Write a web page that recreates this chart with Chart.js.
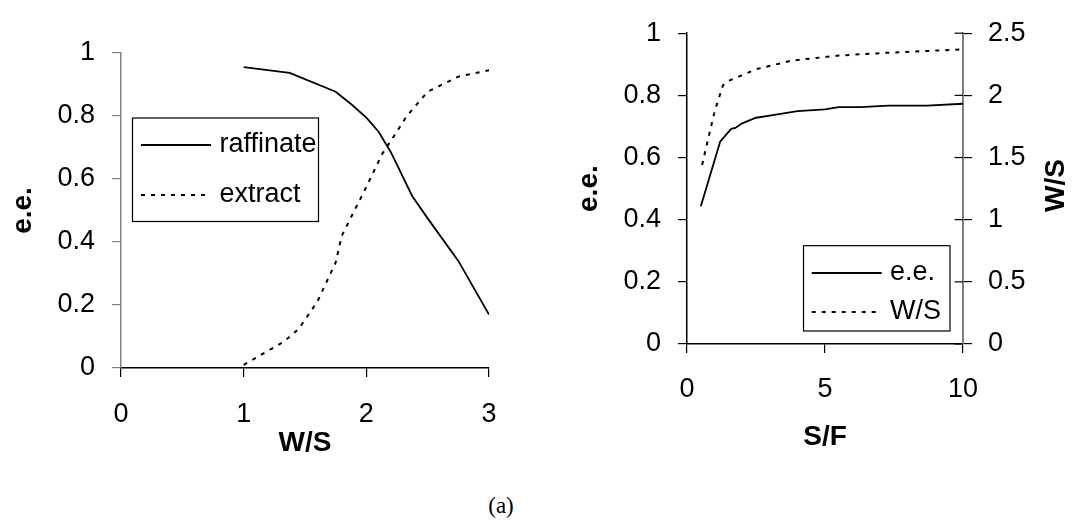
<!DOCTYPE html>
<html><head><meta charset="utf-8">
<script src="https://cdn.jsdelivr.net/npm/chart.js@4/dist/chart.umd.min.js"></script>
<style>
html,body{margin:0;padding:0;background:#fff;width:1073px;height:521px;overflow:hidden;}
.box{position:absolute;top:0;}
#w1{left:0;width:540px;height:470px;}
#w2{left:540px;width:533px;height:470px;}
#cap{position:absolute;left:451px;width:100px;top:492px;text-align:center;font:23px "Liberation Serif","Times New Roman",serif;line-height:28px;color:#000;}
</style></head><body>
<div id="w1" class="box"><canvas id="c1" width="540" height="470"></canvas></div>
<div id="w2" class="box"><canvas id="c2" width="533" height="470"></canvas></div>
<div id="cap">(a)</div>
<script>
// ---- Left chart data (e.e. vs W/S) ----
const raffinateWS = [1.0, 1.375, 1.75, 1.875, 2.0, 2.1, 2.2, 2.375, 2.5, 2.75, 3.0];
const raffinateEE = [0.955, 0.937, 0.877, 0.838, 0.795, 0.75, 0.685, 0.545, 0.475, 0.34, 0.17];
const extractWS = [1.0, 1.33, 1.45, 1.6, 1.75, 1.8, 2.0, 2.13, 2.24, 2.33, 2.5, 2.75, 3.0];
const extractEE = [0.01, 0.084, 0.125, 0.21, 0.335, 0.42, 0.575, 0.68, 0.745, 0.80, 0.877, 0.925, 0.945];
const leftXTicks = ['0', '1', '2', '3'];
const leftYTicks = ['0', '0.2', '0.4', '0.6', '0.8', '1'];
const leftXTitle = 'W/S';
const leftYTitle = 'e.e.';
const leftLabels = ['raffinate', 'extract'];

// ---- Right chart data (e.e. and W/S vs S/F) ----
const eeSF = [0.5, 0.8, 1.2, 1.6, 1.75, 2, 2.5, 3, 4, 5, 5.5, 6.3, 7.3, 8.7, 10];
const eeVal = [0.443, 0.532, 0.651, 0.692, 0.695, 0.71, 0.728, 0.735, 0.749, 0.755, 0.762, 0.762, 0.767, 0.767, 0.773];
const wsSF = [0.55, 0.65, 1.0, 1.3, 1.55, 2.5, 3.8, 5.5, 7, 10];
const wsVal = [1.44, 1.54, 1.87, 2.08, 2.12, 2.21, 2.28, 2.32, 2.34, 2.37];
const rightXTicks = ['0', '5', '10'];
const rightYTicks = ['0', '0.2', '0.4', '0.6', '0.8', '1'];
const rightY2Ticks = ['0', '0.5', '1', '1.5', '2', '2.5'];
const rightXTitle = 'S/F';
const rightYTitle = 'e.e.';
const rightY2Title = 'W/S';
const rightLabels = ['e.e.', 'W/S'];

const FONT = '"Liberation Sans", Arial, sans-serif';
const pts = (xs, ys) => xs.map((x, i) => ({x: x, y: ys[i]}));

function boxLegend(L) {
  return {
    id: 'boxLegend',
    afterDraw(chart) {
      const ctx = chart.ctx;
      ctx.save();
      ctx.fillStyle = '#fff';
      ctx.fillRect(L.x, L.y, L.w, L.h);
      ctx.strokeStyle = '#000';
      ctx.lineWidth = 1.2;
      ctx.setLineDash([]);
      ctx.strokeRect(L.x, L.y, L.w, L.h);
      chart.data.datasets.forEach((ds, i) => {
        const yy = L.rows[i];
        ctx.beginPath();
        ctx.setLineDash(ds.borderDash || []);
        ctx.lineWidth = ds.borderWidth;
        ctx.strokeStyle = ds.borderColor;
        ctx.moveTo(L.s0, yy); ctx.lineTo(L.s1, yy);
        ctx.stroke();
        ctx.setLineDash([]);
        ctx.fillStyle = '#000';
        ctx.font = '27px ' + FONT;
        ctx.textBaseline = 'middle';
        ctx.textAlign = 'left';
        ctx.fillText(ds.label, L.tx, yy);
      });
      ctx.restore();
    }
  };
}

const tickFont = {family: FONT, size: 27};
const titleFont = {family: FONT, size: 28, weight: 'bold'};

// ---- Left chart ----
new Chart(document.getElementById('c1'), {
  type: 'line',
  data: {
    datasets: [
      {label: leftLabels[0], data: pts(raffinateWS, raffinateEE), borderColor: '#000', borderWidth: 1.8, pointRadius: 0, tension: 0, fill: false},
      {label: leftLabels[1], data: pts(extractWS, extractEE), borderColor: '#000', borderWidth: 2, borderDash: [4, 6], pointRadius: 0, tension: 0, fill: false}
    ]
  },
  options: {
    responsive: false, animation: false, devicePixelRatio: 1,
    layout: {padding: {left: 0, top: 53, right: 51, bottom: 0}},
    plugins: {legend: {display: false}, tooltip: {enabled: false}},
    scales: {
      x: {
        type: 'linear', min: 0, max: 3,
        ticks: {stepSize: 1, font: tickFont, color: '#000', padding: 21, maxRotation: 0, callback: (v, i) => leftXTicks[i]},
        grid: {display: true, drawOnChartArea: false, drawTicks: true, tickLength: 9, color: '#000', lineWidth: 1.2},
        border: {display: true, color: '#000', width: 1.5},
        title: {display: true, text: leftXTitle, font: titleFont, color: '#000', padding: {top: 0, bottom: 10}},
        afterFit: s => { s.height = 102; }
      },
      y: {
        type: 'linear', min: 0, max: 1,
        ticks: {stepSize: 0.2, font: tickFont, color: '#000', padding: 17, callback: (v, i) => leftYTicks[i]},
        grid: {display: true, drawOnChartArea: false, drawTicks: true, tickLength: 9, color: '#808080', lineWidth: 1.2},
        border: {display: true, color: '#808080', width: 1.5},
        title: {display: true, text: leftYTitle, font: titleFont, color: '#000', padding: {top: 6, bottom: 0}},
        afterFit: s => { s.width = 121; }
      }
    }
  },
  plugins: [boxLegend({x: 132.5, y: 118, w: 186, h: 103.5, rows: [145, 195], s0: 141, s1: 211, tx: 219.5})]
});

// ---- Right chart ----
const rightAxisExtras = {
  id: 'rightAxisExtras',
  afterDraw(chart) {
    const ctx = chart.ctx;
    const s = chart.scales.y2;
    ctx.save();
    ctx.strokeStyle = '#000';
    ctx.lineWidth = 1.2;
    s.ticks.forEach(t => {
      const py = s.getPixelForValue(t.value);
      ctx.beginPath();
      ctx.moveTo(s.left - 8.5, py); ctx.lineTo(s.left, py);
      ctx.stroke();
    });
    ctx.translate(516, (chart.chartArea.top + chart.chartArea.bottom) / 2 - 3);
    ctx.rotate(-Math.PI / 2);
    ctx.fillStyle = '#000';
    ctx.font = 'bold 28px ' + FONT;
    ctx.textAlign = 'center';
    ctx.textBaseline = 'middle';
    ctx.fillText(rightY2Title, 0, 0);
    ctx.restore();
  }
};

new Chart(document.getElementById('c2'), {
  type: 'line',
  data: {
    datasets: [
      {label: rightLabels[0], data: pts(eeSF, eeVal), yAxisID: 'y', borderColor: '#000', borderWidth: 1.8, pointRadius: 0, tension: 0, fill: false},
      {label: rightLabels[1], data: pts(wsSF, wsVal), yAxisID: 'y2', borderColor: '#000', borderWidth: 2, borderDash: [4, 6], pointRadius: 0, tension: 0, fill: false}
    ]
  },
  options: {
    responsive: false, animation: false, devicePixelRatio: 1,
    layout: {padding: {left: 0, top: 23, right: 0, bottom: 0}},
    plugins: {legend: {display: false}, tooltip: {enabled: false}},
    scales: {
      x: {
        type: 'linear', min: 0, max: 10,
        ticks: {stepSize: 5, font: tickFont, color: '#000', padding: 20, maxRotation: 0, callback: (v, i) => rightXTicks[i]},
        grid: {display: true, drawOnChartArea: false, drawTicks: true, tickLength: 9, color: '#000', lineWidth: 1.2},
        border: {display: true, color: '#000', width: 1.5},
        title: {display: true, text: rightXTitle, font: titleFont, color: '#000', padding: {top: 0, bottom: 16}},
        afterFit: s => { s.height = 126; }
      },
      y: {
        type: 'linear', position: 'left', min: 0, max: 1,
        ticks: {stepSize: 0.2, font: tickFont, color: '#000', padding: 17, callback: (v, i) => rightYTicks[i]},
        grid: {display: true, drawOnChartArea: false, drawTicks: true, tickLength: 9, color: '#000', lineWidth: 1.2},
        border: {display: true, color: '#000', width: 1.5},
        title: {display: true, text: rightYTitle, font: titleFont, color: '#000', padding: {top: 32, bottom: 0}},
        afterFit: s => { s.width = 147; }
      },
      y2: {
        type: 'linear', position: 'right', min: 0, max: 2.5,
        ticks: {stepSize: 0.5, font: tickFont, color: '#000', padding: 16, callback: (v, i) => rightY2Ticks[i]},
        grid: {display: true, drawOnChartArea: false, drawTicks: true, tickLength: 9, color: '#000', lineWidth: 1.2},
        border: {display: true, color: '#808080', width: 2},
        title: {display: false},
        afterFit: s => { s.width = 110; }
      }
    }
  },
  plugins: [boxLegend({x: 263.5, y: 245.7, w: 146.5, h: 85.3, rows: [273, 312], s0: 271.7, s1: 341.7, tx: 350}), rightAxisExtras]
});
</script>
</body></html>
